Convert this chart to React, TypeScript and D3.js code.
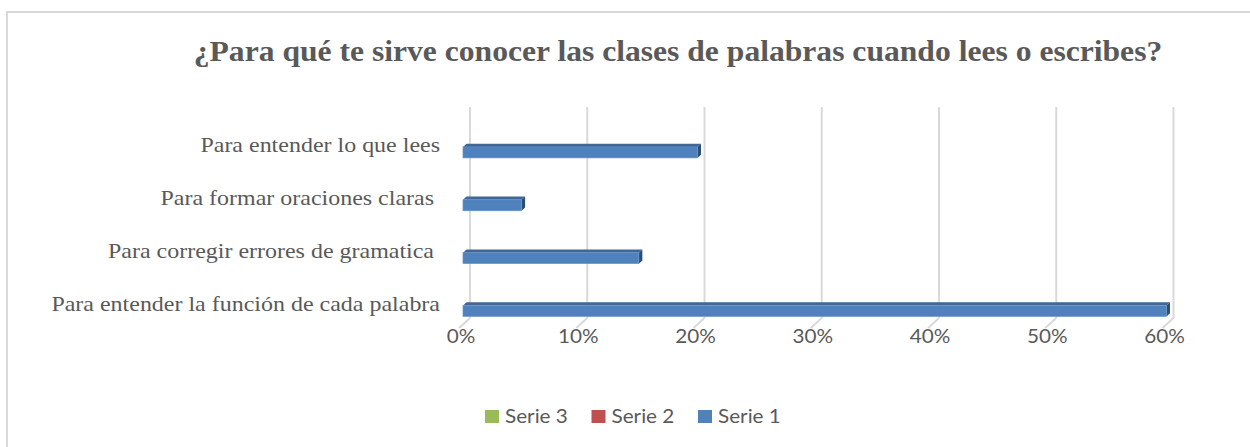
import React from "react";
import * as d3 from "d3";

const title = "¿Para qué te sirve conocer las clases de palabras cuando lees o escribes?";
const categories = [
  "Para entender lo que lees",
  "Para formar oraciones claras ",
  "Para corregir errores de gramatica ",
  "Para entender la función de cada palabra",
];
const serie1 = [0.2, 0.05, 0.15, 0.6];
const ticks = [0, 0.1, 0.2, 0.3, 0.4, 0.5, 0.6];
const legendItems = [
  { name: "Serie 3", color: "#9bbb59" },
  { name: "Serie 2", color: "#c0504d" },
  { name: "Serie 1", color: "#4f81bd" },
];

const SX = 1.09;
const serif = "'Liberation Serif', 'Times New Roman', serif";
const sans = "Lato, 'Open Sans', sans-serif";

function SText(props: any) {
  const { x, y, children, ...rest } = props;
  return (
    <text transform={`translate(${x},${y}) scale(${SX},1)`} x={0} y={0} {...rest}>
      {children}
    </text>
  );
}

export default function App() {
  const W = 1250, H = 447;
  const xFront = d3.scaleLinear().domain([0, 0.6]).range([459, 1162.5]);
  const depthDX = 11, depthDY = -10;
  const backTop = 107;
  const floorBackY = 318;
  const y = d3.scaleBand().domain(categories).range([126, 337.5]).padding(0);
  const barH = 11;
  const barDepth0 = 0.36, barDepth1 = 0.68;
  const grid = "#d9d9d9";
  const txt = "#595959";

  return (
    <svg width={W} height={H} style={{ position: "absolute", left: 0, top: 0 }}>
      <rect x={0} y={0} width={W} height={H} fill="#fff" />
      <rect x={7} y={12} width={1260} height={460} fill="#fff" stroke={grid} strokeWidth={2} />
      <SText x={678} y={61} textAnchor="middle" fontFamily={serif} fontWeight="bold" fontSize={29} fill={txt}>
        {title}
      </SText>
      {ticks.map((t) => {
        const fx = xFront(t);
        const bx = fx + depthDX;
        return (
          <g key={t}>
            <line x1={bx} x2={bx} y1={backTop} y2={floorBackY} stroke={grid} strokeWidth={2} />
            <line x1={bx} x2={fx} y1={floorBackY} y2={floorBackY - depthDY} stroke={grid} strokeWidth={2} />
            <SText x={fx + 2} y={343} textAnchor="middle" fontFamily={sans} fontSize={19} fill={txt}>
              {d3.format(".0%")(t)}
            </SText>
          </g>
        );
      })}
      {categories.map((c, i) => {
        const cy = (y(c) as number) + y.bandwidth() / 2;
        const x0 = xFront(0) + depthDX * barDepth0;
        const x1 = xFront(serie1[i]) + depthDX * barDepth0;
        const y0 = cy - barH / 2;
        const ox = depthDX * (barDepth1 - barDepth0);
        const oy = depthDY * (barDepth1 - barDepth0);
        return (
          <g key={c}>
            <polygon points={`${x0},${y0} ${x0 + ox},${y0 + oy} ${x1 + ox},${y0 + oy} ${x1},${y0}`} fill="#3f6797" />
            <polygon points={`${x1},${y0} ${x1 + ox},${y0 + oy} ${x1 + ox},${y0 + oy + barH} ${x1},${y0 + barH}`} fill="#2c4d75" />
            <rect x={x0} y={y0} width={x1 - x0} height={barH} fill="#4f81bd" stroke="#6e97c9" strokeWidth={0.6} />
            <SText x={440} y={cy - 0.5} textAnchor="end" style={{ whiteSpace: "pre" }} fontFamily={serif} fontSize={22} fill={txt}>
              {c}
            </SText>
          </g>
        );
      })}
      {legendItems.map((d, i) => {
        const lx = 485 + i * 106.5;
        return (
          <g key={d.name}>
            <rect x={lx} y={410} width={14} height={13} fill={d.color} />
            <SText x={lx + 20} y={423} fontFamily={sans} fontSize={19} fill={txt}>
              {d.name}
            </SText>
          </g>
        );
      })}
    </svg>
  );
}
